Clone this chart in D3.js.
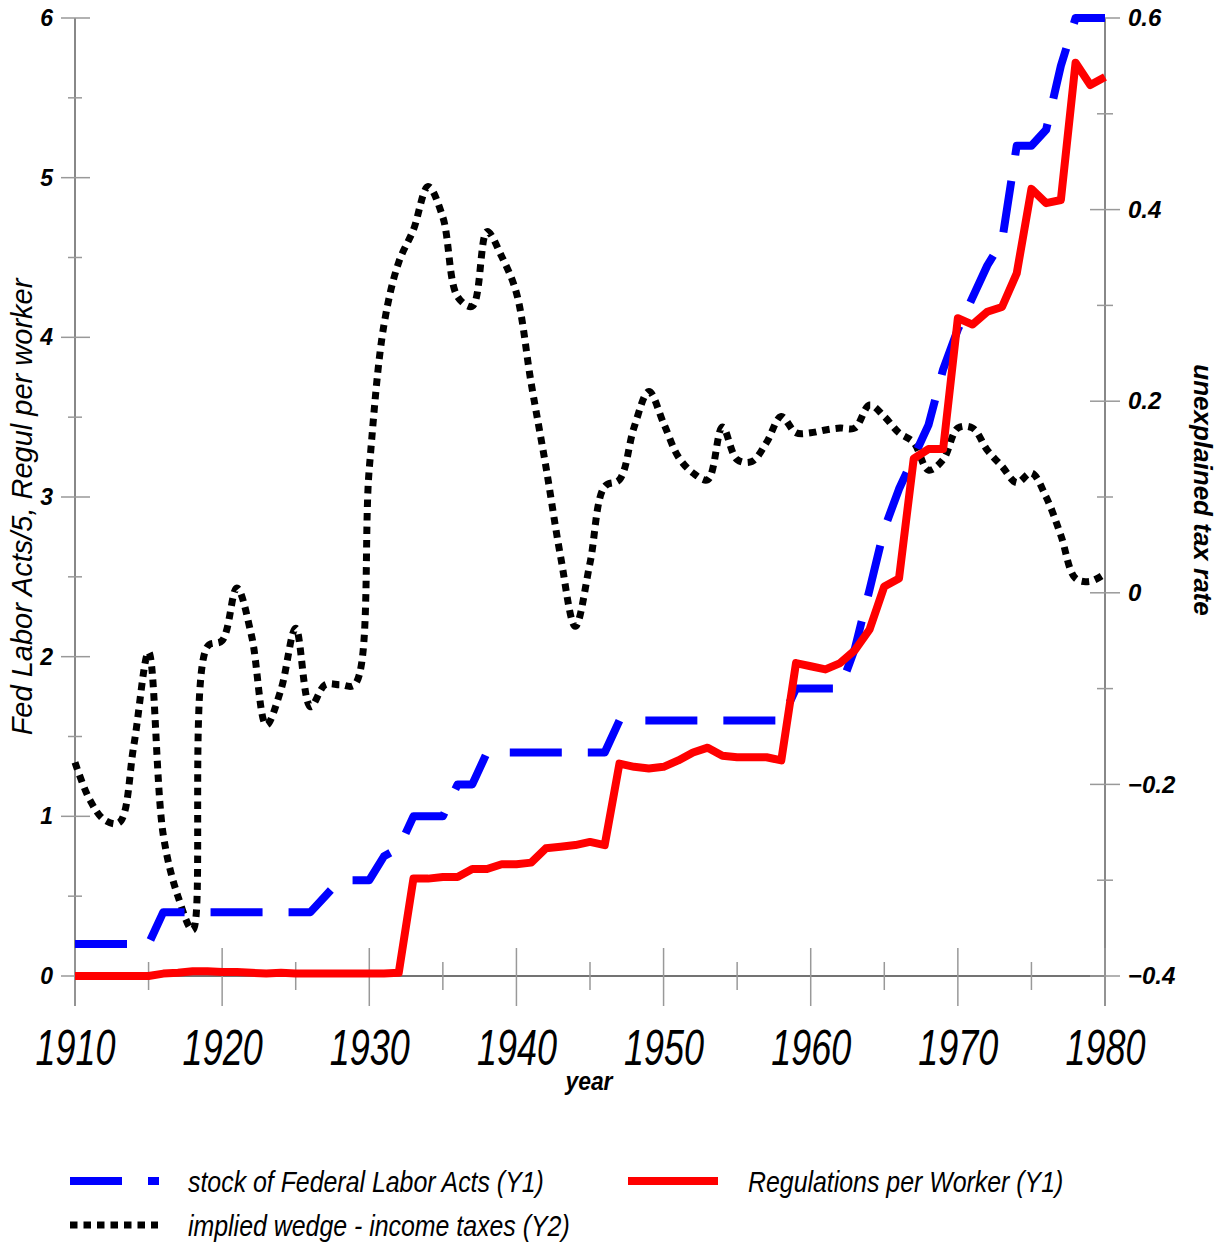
<!DOCTYPE html>
<meta charset="utf-8">
<script src="https://d3js.org/d3.v7.min.js"></script>
<style>
  body { margin: 0; background: #fff; }
  text { font-family: Arial, "Liberation Sans", sans-serif; }
</style>
<div id="chart"></div>
<script>

// ---- data ----
var years = [1910,1911,1912,1913,1914,1915,1916,1917,1918,1919,
             1920,1921,1922,1923,1924,1925,1926,1927,1928,1929,
             1930,1931,1932,1933,1934,1935,1936,1937,1938,1939,
             1940,1941,1942,1943,1944,1945,1946,1947,1948,1949,
             1950,1951,1952,1953,1954,1955,1956,1957,1958,1959,
             1960,1961,1962,1963,1964,1965,1966,1967,1968,1969,
             1970,1971,1972,1973,1974,1975,1976,1977,1978,1979,1980];

// stock of Federal Labor Acts / 5 (Y1)
var laborActs = [0.2,0.2,0.2,0.2,0.2,0.2,0.4,0.4,0.4,0.4,
                 0.4,0.4,0.4,0.4,0.4,0.4,0.4,0.5,0.6,0.6,
                 0.6,0.75,0.8,1.0,1.0,1.0,1.2,1.2,1.4,1.4,
                 1.4,1.4,1.4,1.4,1.4,1.4,1.4,1.6,1.6,1.6,
                 1.6,1.6,1.6,1.6,1.6,1.6,1.6,1.6,1.6,1.8,
                 1.8,1.8,1.8,2.05,2.42,2.8,3.05,3.25,3.45,3.8,
                 4.05,4.25,4.45,4.6,5.2,5.2,5.3,5.7,6.0,6.0,6.0];

// Regulations per worker (Y1)
var regulations = [0,0,0,0,0,0,0.015,0.02,0.03,0.03,
                   0.025,0.025,0.02,0.015,0.02,0.015,0.015,0.015,0.015,0.015,
                   0.015,0.015,0.02,0.61,0.61,0.62,0.62,0.67,0.67,0.70,
                   0.70,0.71,0.80,0.81,0.82,0.84,0.82,1.33,1.31,1.30,
                   1.31,1.35,1.40,1.43,1.38,1.37,1.37,1.37,1.35,1.96,
                   1.94,1.92,1.96,2.04,2.17,2.44,2.49,3.24,3.30,3.30,
                   4.12,4.08,4.16,4.19,4.40,4.93,4.84,4.86,5.72,5.58,5.63];

// implied wedge - income taxes (Y2)
var wedge = [-0.177,-0.216,-0.237,-0.240,-0.159,-0.062,-0.253,-0.317,-0.352,-0.056,
             -0.050,0.005,-0.045,-0.138,-0.101,-0.037,-0.119,-0.096,-0.096,-0.096,
             0.13,0.28,0.345,0.379,0.424,0.392,0.309,0.299,0.377,0.351,
             0.313,0.219,0.132,0.038,-0.035,0.031,0.111,0.118,0.173,0.210,
             0.177,0.142,0.125,0.118,0.173,0.139,0.137,0.157,0.184,0.167,
             0.167,0.170,0.172,0.172,0.196,0.184,0.167,0.157,0.128,0.139,
             0.172,0.172,0.149,0.132,0.115,0.125,0.100,0.060,0.015,0.012,0.020];

var xTicks = [1910,1920,1930,1940,1950,1960,1970,1980];
var xMinor = [1915,1925,1935,1945,1955,1965,1975];
var y1Ticks = [0,1,2,3,4,5,6];
var y1Minor = [0.5,1.5,2.5,3.5,4.5,5.5];
var y2Ticks = [-0.4,-0.2,0,0.2,0.4,0.6];
var y2Minor = [-0.3,-0.1,0.1,0.3,0.5];

var legendItems = [
  {label: "stock of Federal Labor Acts (Y1)", key: "acts"},
  {label: "Regulations per Worker (Y1)", key: "regs"},
  {label: "implied wedge - income taxes (Y2)", key: "wedge"}
];

// ---- setup ----
var width = 1221, height = 1243;
var svg = d3.select("#chart").append("svg")
    .attr("width", width)
    .attr("height", height);

var x = d3.scaleLinear().domain([1910, 1980]).range([75, 1105]);
var y1 = d3.scaleLinear().domain([0, 6]).range([976, 18]);
var y2 = d3.scaleLinear().domain([-0.4, 0.6]).range([976, 18]);

var styles = {
  acts:  {color: "#0000ff", width: 8, dash: "52,26"},
  regs:  {color: "#ff0000", width: 8, dash: null},
  wedge: {color: "#000000", width: 7, dash: "7.5,6"}
};

// ---- axes lines and cross ticks ----
var axisG = svg.append("g");

axisG.append("line")
    .attr("x1", x(1910)).attr("x2", x(1980))
    .attr("y1", y1(0)).attr("y2", y1(0))
    .attr("stroke", "#444").attr("stroke-width", 1.5);

[x(1910), x(1980)].forEach(function(px) {
  axisG.append("line")
    .attr("x1", px).attr("x2", px)
    .attr("y1", 18).attr("y2", 1006)
    .attr("stroke", "#888").attr("stroke-width", 2);
});

axisG.selectAll(".xmaj").data(xTicks).enter().append("line")
    .attr("x1", d => x(d)).attr("x2", d => x(d))
    .attr("y1", y1(0) - 28).attr("y2", y1(0) + 30)
    .attr("stroke", "#999").attr("stroke-width", 1.5);
axisG.selectAll(".xmin").data(xMinor).enter().append("line")
    .attr("x1", d => x(d)).attr("x2", d => x(d))
    .attr("y1", y1(0) - 14).attr("y2", y1(0) + 14)
    .attr("stroke", "#999").attr("stroke-width", 1.5);

axisG.selectAll(".y1maj").data(y1Ticks).enter().append("line")
    .attr("x1", x(1910) - 14).attr("x2", x(1910) + 15)
    .attr("y1", d => y1(d)).attr("y2", d => y1(d))
    .attr("stroke", "#999").attr("stroke-width", 1.5);
axisG.selectAll(".y1min").data(y1Minor).enter().append("line")
    .attr("x1", x(1910) - 7).attr("x2", x(1910) + 7)
    .attr("y1", d => y1(d)).attr("y2", d => y1(d))
    .attr("stroke", "#999").attr("stroke-width", 1.5);

axisG.selectAll(".y2maj").data(y2Ticks).enter().append("line")
    .attr("x1", x(1980) - 15).attr("x2", x(1980) + 15)
    .attr("y1", d => y2(d)).attr("y2", d => y2(d))
    .attr("stroke", "#999").attr("stroke-width", 1.5);
axisG.selectAll(".y2min").data(y2Minor).enter().append("line")
    .attr("x1", x(1980) - 8).attr("x2", x(1980) + 8)
    .attr("y1", d => y2(d)).attr("y2", d => y2(d))
    .attr("stroke", "#999").attr("stroke-width", 1.5);

// ---- tick labels through d3 axes ----
var xAxis = svg.append("g")
    .attr("transform", "translate(0," + y1(0) + ")")
    .call(d3.axisBottom(x).tickValues(xTicks).tickFormat(d3.format("d")).tickSize(0).tickPadding(54));
xAxis.select(".domain").remove();
xAxis.selectAll("text")
    .attr("transform", "scale(0.72,1)")
    .style("font-size", "50px")
    .style("font-style", "italic")
    .style("fill", "#000");

var yLeft = svg.append("g")
    .attr("transform", "translate(" + x(1910) + ",0)")
    .call(d3.axisLeft(y1).tickValues(y1Ticks).tickFormat(d3.format("d")).tickSize(0).tickPadding(22));
yLeft.select(".domain").remove();
yLeft.selectAll("text")
    .style("font-size", "23px")
    .style("font-weight", "bold")
    .style("font-style", "italic")
    .style("fill", "#000");

var yRight = svg.append("g")
    .attr("transform", "translate(" + x(1980) + ",0)")
    .call(d3.axisRight(y2).tickValues(y2Ticks).tickFormat(d => d === 0 ? "0" : d3.format(".1f")(d)).tickSize(0).tickPadding(23));
yRight.select(".domain").remove();
yRight.selectAll("text")
    .style("font-size", "24px")
    .style("font-weight", "bold")
    .style("font-style", "italic")
    .style("fill", "#000");

// ---- axis titles ----
svg.append("text")
    .attr("transform", "translate(32,507) rotate(-90)")
    .attr("text-anchor", "middle")
    .style("font-size", "29px")
    .style("font-style", "italic")
    .text("Fed Labor Acts/5, Regul per worker");

svg.append("text")
    .attr("transform", "translate(1194,490) rotate(90)")
    .attr("text-anchor", "middle")
    .style("font-size", "26px")
    .style("font-weight", "bold")
    .style("font-style", "italic")
    .text("unexplained tax rate");

svg.append("text")
    .attr("transform", "translate(589,1090) scale(0.88,1)")
    .attr("text-anchor", "middle")
    .style("font-size", "26px")
    .style("font-weight", "bold")
    .style("font-style", "italic")
    .text("year");

// ---- series ----
var lineY1 = d3.line().x((d, i) => x(years[i])).y(d => y1(d));
var lineY2 = d3.line().x((d, i) => x(years[i])).y(d => y2(d))
    .curve(d3.curveCatmullRom.alpha(0.5));

function drawLine(data, gen, st) {
  svg.append("path")
    .datum(data)
    .attr("d", gen)
    .attr("fill", "none")
    .attr("stroke", st.color)
    .attr("stroke-width", st.width)
    .attr("stroke-dasharray", st.dash)
    .attr("stroke-linejoin", "round");
}

drawLine(wedge, lineY2, styles.wedge);
drawLine(laborActs, lineY1, styles.acts);
drawLine(regulations, lineY1, styles.regs);

// ---- legend ----
var legendPos = {
  acts:  {lx: 70,  ly: 1181, tx: 188, ty: 1192, len: 89},
  regs:  {lx: 628, ly: 1181, tx: 748, ty: 1192, len: 90},
  wedge: {lx: 70,  ly: 1225, tx: 188, ty: 1236, len: 88}
};

var legend = svg.append("g").selectAll("g")
    .data(legendItems)
    .enter().append("g");

legend.append("line")
    .attr("x1", d => legendPos[d.key].lx)
    .attr("x2", d => legendPos[d.key].lx + legendPos[d.key].len)
    .attr("y1", d => legendPos[d.key].ly)
    .attr("y2", d => legendPos[d.key].ly)
    .attr("stroke", d => styles[d.key].color)
    .attr("stroke-width", d => styles[d.key].width)
    .attr("stroke-dasharray", d => styles[d.key].dash);

legend.append("text")
    .attr("transform", d => "translate(" + legendPos[d.key].tx + "," + legendPos[d.key].ty + ") scale(0.83,1)")
    .style("font-size", "30px")
    .style("font-style", "italic")
    .text(d => d.label);

</script>
